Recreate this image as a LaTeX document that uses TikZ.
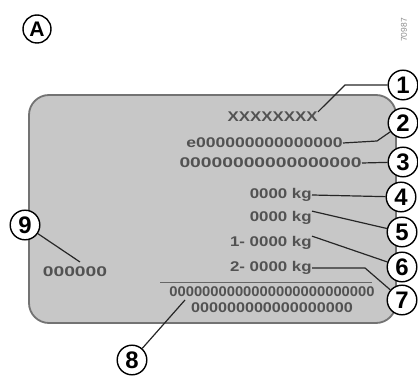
\documentclass[tikz,border=0pt]{standalone}
\usepackage{fontspec}
\setmainfont{Liberation Sans}
\usetikzlibrary{positioning,calc}
\tikzset{
  callout/.style={circle, draw=black, line width=1pt, fill=white, minimum size=0.74cm, inner sep=0pt,
    font=\bfseries\fontsize{17}{17}\selectfont},
  platetext/.style={text=black!68, inner sep=0pt, xscale=#1, font=\bfseries\fontsize{10}{10}\selectfont},
  platetext/.default=1.2,
  leader/.style={line width=0.85pt, black!85},
}
\begin{document}
\begin{tikzpicture}
\useasboundingbox (0,0) rectangle (10.45,9.5);
% label A and picture number
\node[circle, draw=black, line width=1pt, minimum size=0.7cm, inner sep=0pt,
  font=\bfseries\fontsize{15}{15}\selectfont] (lblA) at (0.925,8.775) {A};
\node[rotate=90, text=black!45, font=\fontsize{6}{6}\selectfont, inner sep=0pt] (picno) at (10.1,8.75) {70987};
% plate
\draw[draw=black!55, line width=1.3pt, fill=black!22, rounded corners=0.5cm] (0.725,1.425) rectangle (9.9,7.125);
% plate texts
\node[platetext, anchor=east] (t1) at (7.95,6.575) {XXXXXXXX};
\node[platetext=1.25, anchor=east] (t2) at (8.575,5.925) {e000000000000000};
\node[platetext=1.37, anchor=east] (t3) at (9.05,5.425) {00000000000000000};
\node[platetext, anchor=east] (t4) at (7.8,4.625) {0000 kg};
\node[platetext, anchor=east] (t5) at (7.8,4.05) {0000 kg};
\node[platetext, anchor=east] (t6) at (7.8,3.425) {1- 0000 kg};
\node[platetext, anchor=east] (t7) at (7.8,2.8) {2- 0000 kg};
\node[platetext=1.05] (t8a) at (6.8,2.2) {0000000000000000000000000};
\node[platetext=1.15] (t8b) at (6.8,1.8) {000000000000000000};
\node[platetext=1.37] (t9) at (1.875,2.7) {000000};
\coordinate (sepL) at (4.0,2.45);
\coordinate (sepR) at (9.3,2.45);
\draw[black!60, line width=0.6pt] (sepL) -- (sepR);
% callouts
\node[callout] (c1) at (10.075,7.375) {1};
\node[callout] (c2) at (10.075,6.425) {2};
\node[callout] (c3) at (10.075,5.45) {3};
\node[callout] (c4) at (10.025,4.575) {4};
\node[callout] (c5) at (10.05,3.7) {5};
\node[callout] (c6) at (10.05,2.825) {6};
\node[callout] (c7) at (10.05,2.0) {7};
\node[callout] (c8) at (3.3,0.5) {8};
\node[callout] (c9) at (0.625,3.875) {9};
% leaders
\coordinate (k1) at (8.625,7.375);
\coordinate (k2) at (9.425,5.975);
\coordinate (k7) at (9.125,2.8);
\coordinate (e8) at (4.625,2.0);
\coordinate (e9) at (2.0,2.95);
\draw[leader] (c1) -- (k1) -- (t1.north east);
\draw[leader] (t2.east) -- (k2) -- (c2);
\draw[leader] (t3.east) -- (c3);
\draw[leader] (t4.east) -- (c4);
\draw[leader] (t5.north east) -- (c5);
\draw[leader] (t6.north east) -- (c6);
\draw[leader] (t7.east) -- (k7) -- (c7);
\draw[leader] (c8) -- (e8);
\draw[leader] (c9) -- (e9);
\end{tikzpicture}
\end{document}
